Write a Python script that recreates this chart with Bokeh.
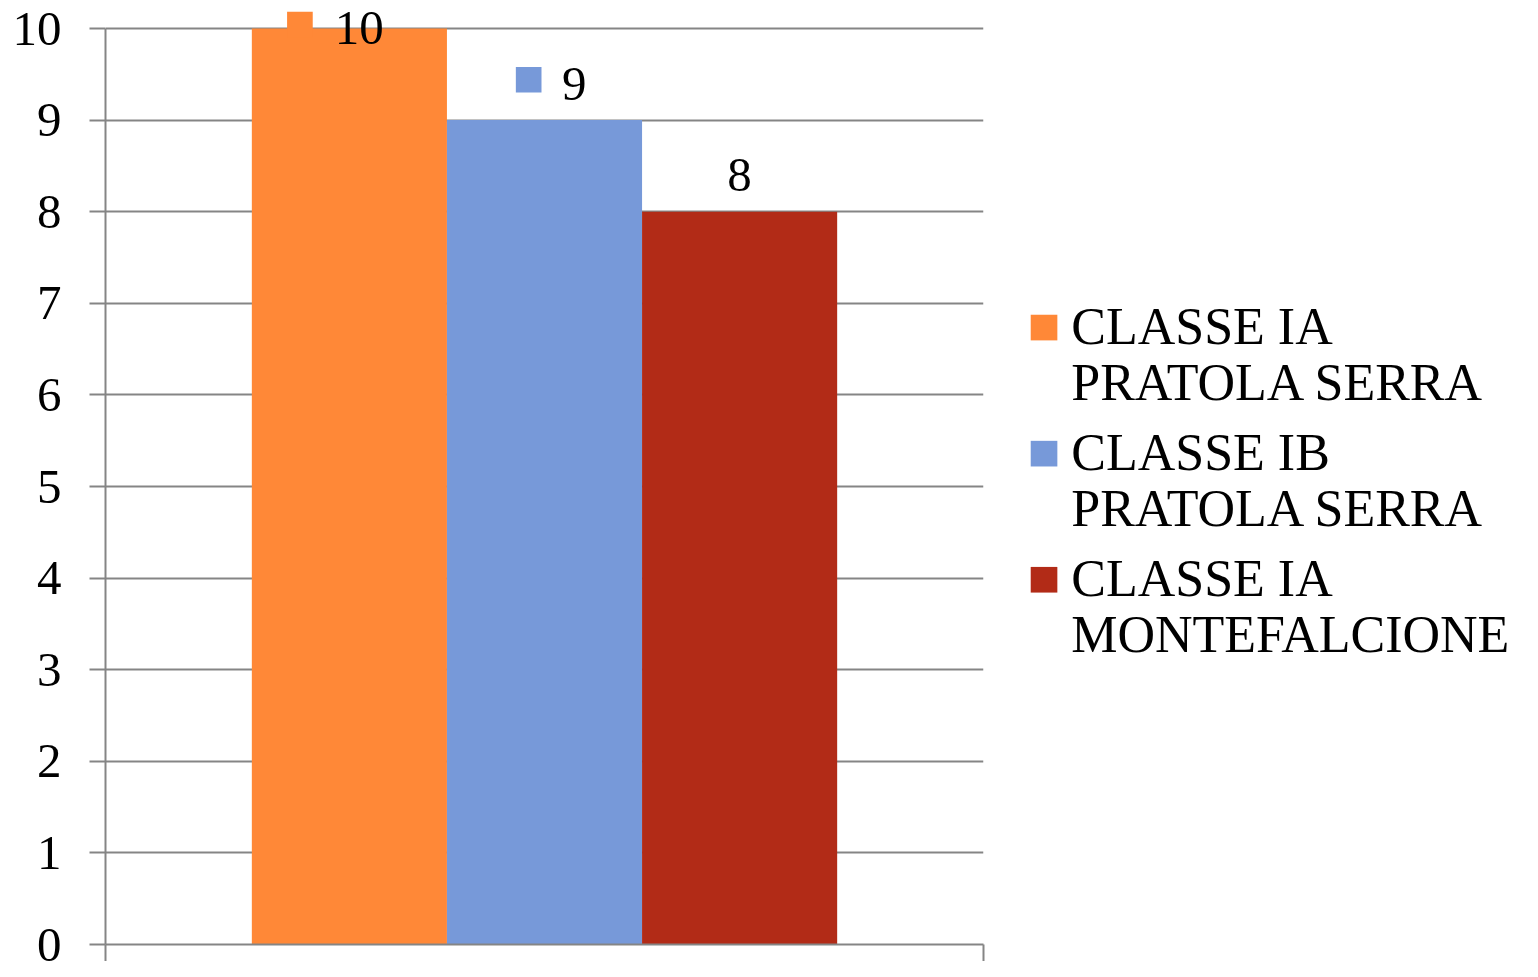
from bokeh.plotting import figure
from bokeh.layouts import row
from bokeh.models import Range1d, FixedTicker, ColumnDataSource
from bokeh.embed import file_html
from bokeh.resources import INLINE
from bokeh.core.properties import value

# ---- data ----
series = ["CLASSE IA\nPRATOLA SERRA", "CLASSE IB\nPRATOLA SERRA", "CLASSE IA\nMONTEFALCIONE"]
values = [10, 9, 8]
colors = ["#FF8837", "#7799D9", "#B22B17"]
y_ticks = [0, 1, 2, 3, 4, 5, 6, 7, 8, 9, 10]
label_texts = ["10", "9", "8"]

# ---- layout constants ----
W, H = 1522, 961
SX, SY = W / 1538, H / 977          # fit reference layout into the window
S = (SX + SY) / 2
LEFT = round(106 * SX)
RIGHT_EDGE = round(993 * SX)
MAIN_W = round(1020 * SX)
TOP = round(28 * SY)
BOTTOM_EDGE = round(960 * SY)
FRAME_W = RIGHT_EDGE - LEFT
FRAME_H = BOTTOM_EDGE - TOP
PX_PER_Y = FRAME_H / 10
GAP = 0.75            # half of gap width 150%
X_END = 2 * GAP + len(values)
PX_PER_X = FRAME_W / X_END
FONT = "Liberation Serif"
GRID = "#858585"
FS = f"{round(50 * S)}px"

centers = [GAP + i + 0.5 for i in range(len(values))]

p = figure(width=MAIN_W, height=H, output_backend="svg", toolbar_location=None, title=None,
           x_range=Range1d(0, X_END), y_range=Range1d(0, (FRAME_H + TOP) / PX_PER_Y),
           min_border_left=LEFT, min_border_right=MAIN_W - RIGHT_EDGE,
           min_border_top=0, min_border_bottom=H - BOTTOM_EDGE)
p.outline_line_color = None
p.background_fill_color = "white"
p.border_fill_color = "white"

src = ColumnDataSource(dict(x=centers, top=values, color=colors, label=series))
bars = p.vbar(x="x", top="top", bottom=0, width=1.0, fill_color="color",
              line_color=None, source=src)

# data labels (offsets in pixels from bar centre / bar top)
txt_dx = [10, 30, 0]
txt_dy = [1, 37, 37]
tx = [c + dx * SX / PX_PER_X for c, dx in zip(centers, txt_dx)]
ty = [v + dy * SY / PX_PER_Y for v, dy in zip(values, txt_dy)]
p.text(x=tx, y=ty, text=label_texts, text_font=value(FONT), text_font_size=FS,
       text_color="black", text_align="center", text_baseline="alphabetic")

sq_idx = [0, 1]
sq_dx = [-50, -16]
sq_dy = [4, 41]
sqx = [centers[i] + dx * SX / PX_PER_X for i, dx in zip(sq_idx, sq_dx)]
sqy = [values[i] + dy * SY / PX_PER_Y for i, dy in zip(sq_idx, sq_dy)]
p.rect(x=sqx, y=sqy, width=26 * S, height=26 * S, width_units="screen", height_units="screen",
       fill_color=[colors[i] for i in sq_idx], line_color=None)

# axes
yax = p.yaxis[0]
yax.ticker = FixedTicker(ticks=y_ticks)
yax.bounds = (0, 10)
yax.axis_line_color = GRID
yax.axis_line_width = 2
yax.major_tick_line_color = GRID
yax.major_tick_line_width = 2
yax.major_tick_out = round(16 * SX)
yax.major_tick_in = 0
yax.minor_tick_line_color = None
yax.major_label_text_font = FONT
yax.major_label_text_font_size = FS
yax.major_label_text_color = "black"
yax.major_label_standoff = round(28 * SX)

xax = p.xaxis[0]
xax.ticker = FixedTicker(ticks=[0, X_END])
xax.major_label_overrides = {0: "", X_END: ""}
xax.axis_line_color = GRID
xax.axis_line_width = 2
xax.major_tick_line_color = GRID
xax.major_tick_line_width = 2
xax.major_tick_out = H - BOTTOM_EDGE
xax.major_tick_in = 0
xax.minor_tick_line_color = None
xax.major_label_text_font_size = "1px"
xax.major_label_standoff = 0

p.xgrid.visible = False
p.ygrid.ticker = FixedTicker(ticks=y_ticks)
p.ygrid.grid_line_color = GRID
p.ygrid.grid_line_width = 2

# ---- legend panel (pixel coordinates, y measured from top) ----
LW = W - MAIN_W
lg = figure(width=LW, height=H, output_backend="svg", toolbar_location=None, title=None,
            x_range=Range1d(0, LW), y_range=Range1d(H, 0),
            x_axis_type=None, y_axis_type=None,
            min_border_left=0, min_border_right=0, min_border_top=0, min_border_bottom=0)
lg.outline_line_color = None
lg.xgrid.visible = False
lg.ygrid.visible = False

ENTRY0, ENTRY_STEP, LINE_STEP = 338.5, 130.5, 58
key_x = [1054.5 * SX - MAIN_W] * len(series)
key_y = [(ENTRY0 + ENTRY_STEP * i) * SY for i in range(len(series))]
lg.rect(x=key_x, y=key_y, width=27 * S, height=26 * S, width_units="screen",
        height_units="screen", fill_color=colors, line_color=None)

lx, ly, lt = [], [], []
for i, name in enumerate(series):
    for j, line in enumerate(name.split("\n")):
        lx.append(1082 * SX - MAIN_W)
        ly.append((ENTRY0 + ENTRY_STEP * i + LINE_STEP * j) * SY - 1.5)
        lt.append(line)
lg.text(x=lx, y=ly, text=lt, text_font=value(FONT), text_font_size=f"{round(53 * S)}px",
        text_color="black", text_align="left", text_baseline="alphabetic")

layout = row(p, lg, spacing=0)
open("out.html", "w").write(file_html(layout, INLINE))
